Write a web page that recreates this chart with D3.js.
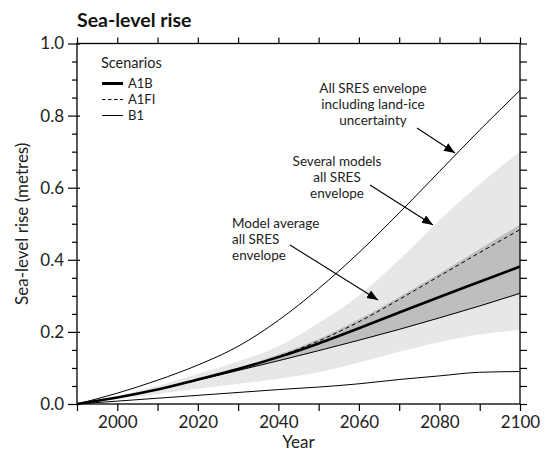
<!DOCTYPE html>
<html><head><meta charset="utf-8">
<script src="https://cdn.jsdelivr.net/npm/d3@7"></script>
<style>
html,body{margin:0;padding:0;background:#fff;}
svg{display:block;font-family:Lato,"Open Sans",sans-serif;}
</style></head>
<body>
<svg id="chart" width="545" height="456"></svg>
<script>
const years = [1990,2000,2010,2020,2030,2040,2050,2060,2070,2080,2090,2100];
const a1b  = [0,0.018,0.040,0.068,0.097,0.130,0.168,0.210,0.254,0.297,0.339,0.381];
const a1fi = [0,0.018,0.040,0.068,0.097,0.132,0.175,0.228,0.290,0.355,0.420,0.484];
const b1   = [0,0.018,0.040,0.066,0.093,0.120,0.148,0.177,0.207,0.239,0.272,0.307];
const landIceUpper = [0,0.030,0.066,0.108,0.160,0.232,0.320,0.420,0.530,0.645,0.760,0.870];
const landIceLower = [0,0.008,0.016,0.024,0.032,0.040,0.047,0.056,0.068,0.078,0.088,0.090];
const modelsUpper  = [0,0.022,0.050,0.083,0.118,0.160,0.225,0.300,0.400,0.510,0.610,0.700];
const modelsLower  = [0,0.014,0.028,0.042,0.056,0.070,0.088,0.115,0.145,0.172,0.193,0.205];
const avgUpper     = [0,0.019,0.042,0.070,0.100,0.137,0.180,0.235,0.297,0.362,0.430,0.497];
const avgLower     = [0,0.017,0.039,0.065,0.092,0.119,0.147,0.176,0.206,0.238,0.271,0.305];
const yMajor = [0,0.2,0.4,0.6,0.8,1.0];
const xLabels = [2000,2020,2040,2060,2080,2100];
const legendItems = ["A1B","A1FI","B1"];

const svg = d3.select("#chart");
const L = 77, R = 520, T = 43.5, B = 404;
const x = d3.scaleLinear().domain([1990,2100]).range([L,R]);
const y = d3.scaleLinear().domain([0,1]).range([B,T]);

const light = "#e6e7e8", dark = "#bcbec0";
const FONT = "Lato,'Open Sans',sans-serif";

const area = (lo,hi) => d3.area().x((d,i)=>x(years[i])).y0((d,i)=>y(lo[i])).y1((d,i)=>y(hi[i])).curve(d3.curveMonotoneX)(years);
const line = (v) => d3.line().x((d,i)=>x(years[i])).y((d,i)=>y(v[i])).curve(d3.curveMonotoneX)(years);

svg.append("path").attr("d", area(modelsLower, modelsUpper)).attr("fill", light);
svg.append("path").attr("d", area(avgLower, avgUpper)).attr("fill", dark);

svg.append("path").attr("d", line(landIceUpper)).attr("fill","none").attr("stroke","#000").attr("stroke-width",1);
svg.append("path").attr("d", line(landIceLower)).attr("fill","none").attr("stroke","#000").attr("stroke-width",1);
svg.append("path").attr("d", line(b1)).attr("fill","none").attr("stroke","#000").attr("stroke-width",1);
svg.append("path").attr("d", line(a1fi)).attr("fill","none").attr("stroke","#000").attr("stroke-width",1).attr("stroke-dasharray","4,3");
svg.append("path").attr("d", line(a1b)).attr("fill","none").attr("stroke","#000").attr("stroke-width",2.6);

// axes
const decadeTicks = d3.range(1990,2101,10);
const fineTicks = d3.range(0,1.0001,0.05).map(v=>+v.toFixed(2));
const minorY = fineTicks.filter(v=>!yMajor.some(m=>Math.abs(m-v)<1e-6));

function styleAxis(g){ g.select(".domain").remove(); g.selectAll("line").attr("stroke","#000").attr("stroke-width",1.2); g.selectAll("text").attr("fill","#222").style("font-size","17px").style("font-family",FONT); }

svg.append("g").attr("transform",`translate(${L},0)`)
  .call(d3.axisLeft(y).tickValues(yMajor).tickFormat(d3.format(".1f")).tickSize(9).tickPadding(4)).call(styleAxis);
svg.append("g").attr("transform",`translate(${L},0)`)
  .call(d3.axisRight(y).tickValues(yMajor).tickFormat("").tickSize(3)).call(styleAxis);
svg.append("g").attr("transform",`translate(${L},0)`)
  .call(d3.axisLeft(y).tickValues(minorY).tickFormat("").tickSize(5)).call(styleAxis);
svg.append("g").attr("transform",`translate(${R},0)`)
  .call(d3.axisRight(y).tickValues(fineTicks).tickFormat("").tickSize(7)).call(styleAxis);
svg.append("g").attr("transform",`translate(0,${T})`)
  .call(d3.axisTop(x).tickValues(decadeTicks).tickFormat("").tickSize(6)).call(styleAxis);
svg.append("g").attr("transform",`translate(0,${B})`)
  .call(d3.axisBottom(x).tickValues(decadeTicks).tickFormat(d=>xLabels.includes(d)?d3.format("d")(d):"").tickSize(7).tickPadding(5)).call(styleAxis);

svg.append("rect").attr("x",L).attr("y",T).attr("width",R-L).attr("height",B-T)
  .attr("fill","none").attr("stroke","#000").attr("stroke-width",1.3);

// titles
svg.append("text").attr("x",77).attr("y",27).text("Sea-level rise")
  .style("font-size","19.5px").style("font-weight","bold").attr("fill","#111");
svg.append("text").attr("transform",`translate(28,${(T+B)/2}) rotate(-90)`).attr("text-anchor","middle")
  .text("Sea-level rise (metres)").style("font-size","17px").attr("fill","#222");
svg.append("text").attr("x",(L+R)/2).attr("y",448).attr("text-anchor","middle")
  .text("Year").style("font-size","17px").attr("fill","#222");

// legend
const lg = svg.append("g");
lg.append("text").attr("x",101).attr("y",68).text("Scenarios").style("font-size","14.5px").attr("fill","#222");
const lgY = [83.5,99.5,115.5];
const lgW = [3,1,1];
const lgDash = [null,"3.5,2.5",null];
legendItems.forEach((t,i)=>{
  lg.append("line").attr("x1",102).attr("x2",123).attr("y1",lgY[i]).attr("y2",lgY[i])
    .attr("stroke","#000").attr("stroke-width",lgW[i]).attr("stroke-dasharray",lgDash[i]);
  lg.append("text").attr("x",128).attr("y",lgY[i]+4.5).text(t).style("font-size","13px").attr("fill","#222");
});

// annotations
svg.append("defs").append("marker").attr("id","arr").attr("viewBox","0 0 10 10").attr("refX",10).attr("refY",5)
  .attr("markerWidth",11).attr("markerHeight",11).attr("markerUnits","userSpaceOnUse").attr("orient","auto")
  .append("path").attr("d","M0,1 L10,5 L0,9 Z").attr("fill","#000");

function note(lines, ax, ay, anchor, lh, x1,y1,x2,y2){
  const t = svg.append("text").attr("text-anchor",anchor).style("font-size","13.5px").attr("fill","#222");
  lines.forEach((s,i)=>t.append("tspan").attr("x",ax).attr("y",ay+i*lh).text(s));
  svg.append("line").attr("x1",x1).attr("y1",y1).attr("x2",x2).attr("y2",y2)
    .attr("stroke","#000").attr("stroke-width",1.1).attr("marker-end","url(#arr)");
}
note(["All SRES envelope","including land-ice","uncertainty"], 373, 93, "middle", 16, 417,128, 455,153);
note(["Several models","all SRES","envelope"], 337, 166, "middle", 16, 370,185, 433,225);
note(["Model average","all SRES","envelope"], 232, 228, "start", 16, 290,245, 378,300);
</script>
</body></html>
